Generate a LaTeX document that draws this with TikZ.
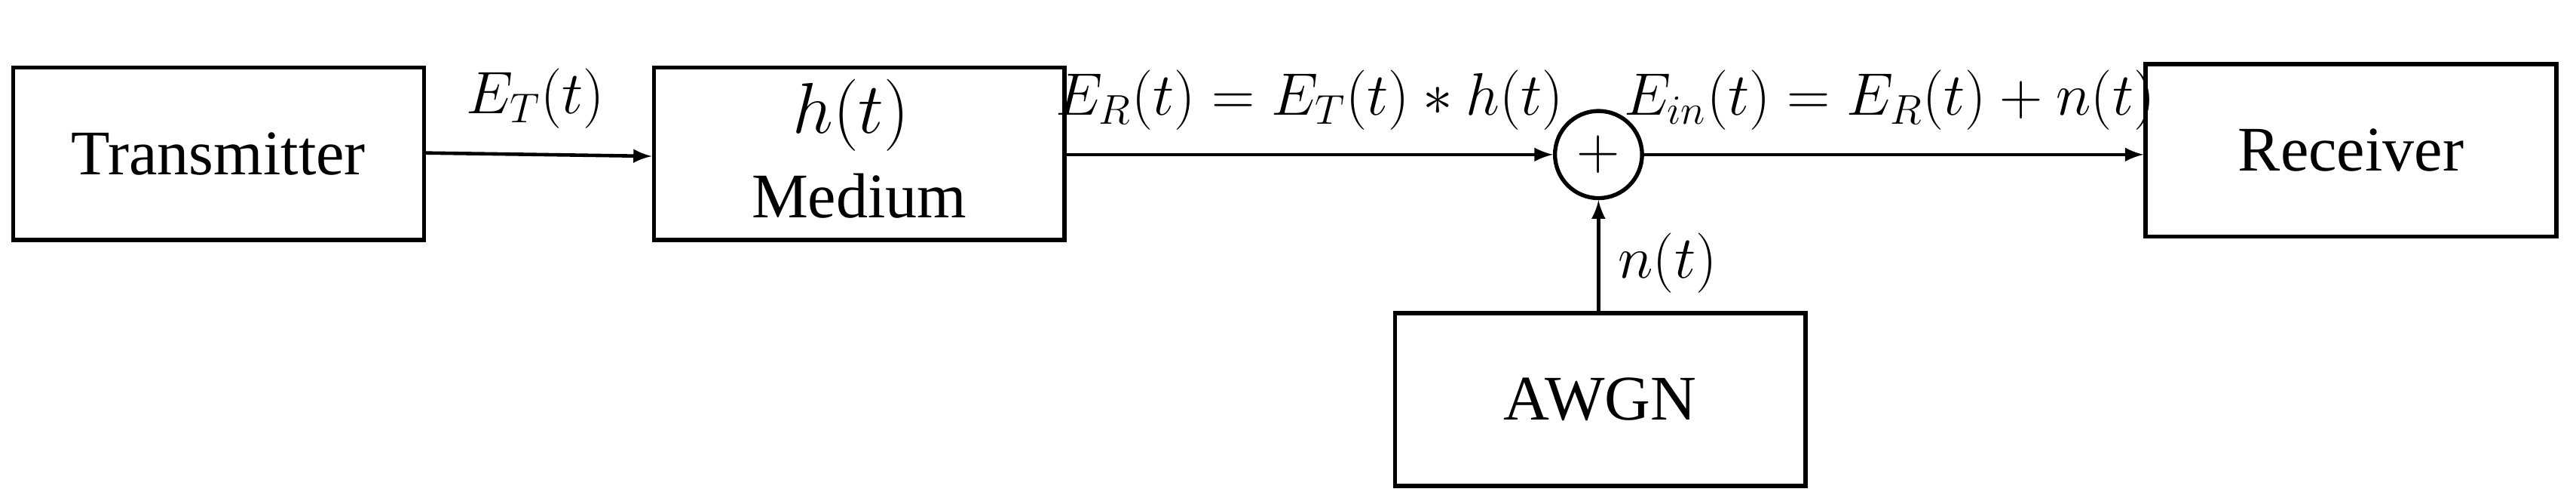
\documentclass[tikz,border=0pt]{standalone}
\usepackage{fontspec}
\setmainfont{Liberation Serif}
\begin{document}
\begin{tikzpicture}[x=0.02cm,y=-0.02cm,
  blk/.style={draw,line width=1.4pt,minimum width=5cm,minimum height=2.1cm,inner sep=0pt,font=\fontsize{22}{26}\selectfont},
  arr/.style={-latex,line width=1.2pt},
  lbl/.style={font=\fontsize{22}{26}\selectfont}]
\useasboundingbox (0,0) rectangle (1568,301);
\node[blk] (tx) at (133,93.5) {Transmitter};
\node[blk] (med) at (523,93.5) {};
\node[lbl,font=\fontsize{30}{34}\selectfont] (h) at (518,70) {$h\big(t\big)$};
\node[lbl] (mt) at (523,119) {Medium};
\node[blk] (rx) at (1431,91.5) {Receiver};
\node[blk] (aw) at (974,243) {AWGN};
\node[draw,circle,line width=1.4pt,minimum size=1.06cm,inner sep=0pt,font=\fontsize{22}{26}\selectfont] (sum) at (973,94) {$+$};
\draw[arr] (tx.east |- 0,93) -- (med.west |- 0,95);
\draw[arr] (med.east |- 0,94) -- (sum.west);
\draw[arr] (sum.east) -- (rx.west |- sum.east);
\draw[arr] (aw.north -| sum.south) -- (sum.south);
\node[lbl] (l1) at (326,60) {$E_T(t)$};
\node[lbl] (l2) at (797,61) {$E_R(t)=E_T(t)*h(t)$};
\node[lbl] (l3) at (1150,61) {$E_{in}(t)=E_R(t)+n(t)$};
\node[lbl] (l4) at (1015,160) {$n(t)$};
\end{tikzpicture}
\end{document}
